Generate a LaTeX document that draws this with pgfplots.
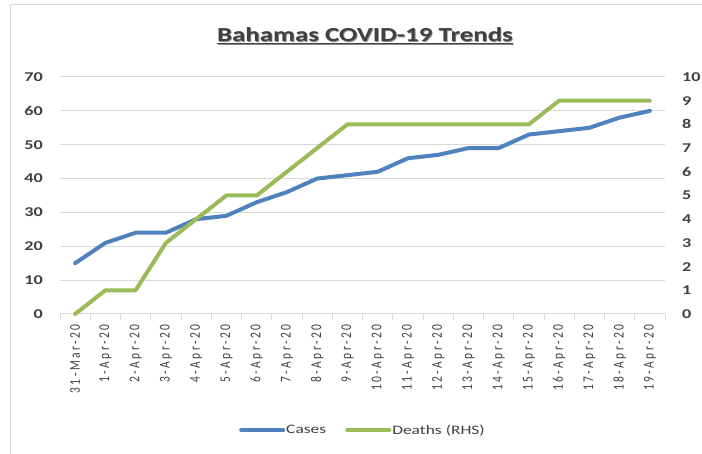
\documentclass[border=0pt]{standalone}
\usepackage{pgfplots}
\pgfplotsset{compat=1.18}
\usepackage{fontspec}
\setmainfont{Carlito}[FakeStretch=1.35]
\newfontfamily\datefont{Carlito}[LetterSpace=22]
\definecolor{cblue}{HTML}{4F81BD}
\definecolor{cgreen}{HTML}{9BBB59}
\definecolor{txt}{HTML}{404040}
\definecolor{gridc}{HTML}{D9D9D9}
\begin{document}
\begin{tikzpicture}[x=1bp,y=1bp]
\useasboundingbox (0,0) rectangle (702,454);
\draw[gridc, line width=1bp] (10,-10) rectangle (720,449);
\node[font=\fontsize{20}{24}\selectfont\bfseries, text=black!45] at (365.8,417.2) {\underline{Bahamas COVID-19 Trends}};
\node[font=\fontsize{20}{24}\selectfont\bfseries, text=txt] at (365,418) {\underline{Bahamas COVID-19 Trends}};
\begin{axis}[at={(60bp,140bp)}, anchor=south west, scale only axis, width=605bp, height=237bp,
  /pgf/number format/assume math mode=true,
  xmin=-0.5, xmax=19.5, ymin=0, ymax=70, ytick={0,10,...,70},
  xtick={0,...,19},
  xticklabels={31-Mar-20,1-Apr-20,2-Apr-20,3-Apr-20,4-Apr-20,5-Apr-20,6-Apr-20,7-Apr-20,8-Apr-20,9-Apr-20,10-Apr-20,11-Apr-20,12-Apr-20,13-Apr-20,14-Apr-20,15-Apr-20,16-Apr-20,17-Apr-20,18-Apr-20,19-Apr-20},
  minor xtick={-0.5,0.5,...,19.5},
  axis x line*=bottom, axis y line*=left,
  y axis line style={draw=none},
  x axis line style={draw=gridc, line width=1bp},
  tick align=outside, major tick length=0pt, minor tick length=6bp,
  minor tick style={draw=gridc, line width=1bp},
  ymajorgrids, grid style={draw=gridc, line width=1bp},
  xticklabel style={yshift=-10bp, rotate=90, yscale=1.3, anchor=east, inner sep=0pt, font=\datefont\fontsize{11.5}{12}\selectfont, text=txt},
  yticklabel style={anchor=east, inner sep=0pt, xshift=-17bp, font=\fontsize{13.5}{14}\selectfont\bfseries, text=txt},
  legend style={at={(rel axis cs:0.5,-0.49)}, anchor=center, draw=none, fill=none, legend columns=2,
    font=\fontsize{13}{14}\selectfont, text=txt,
    nodes={inner xsep=1bp},
    /tikz/every even column/.append style={column sep=18bp}},
  legend image code/.code={\draw[#1] (0bp,0bp) -- (42bp,0bp);},
  clip=false,
]
\addplot[cblue, line width=4bp, line join=round, line cap=round] coordinates {
(0,15) (1,21) (2,24) (3,24) (4,28) (5,29) (6,33) (7,36) (8,40) (9,41)
(10,42) (11,46) (12,47) (13,49) (14,49) (15,53) (16,54) (17,55) (18,58) (19,60)};
\addlegendentry{Cases}
\addlegendimage{cgreen, line width=4bp, line cap=round}
\addlegendentry{Deaths (RHS)}
\end{axis}
\begin{axis}[at={(60bp,140bp)}, anchor=south west, scale only axis, width=605bp, height=237bp,
  /pgf/number format/assume math mode=true,
  xmin=-0.5, xmax=19.5, ymin=0, ymax=10, ytick={0,1,...,10},
  axis x line=none, axis y line*=right,
  y axis line style={draw=none},
  major tick length=0pt,
  yticklabel style={anchor=west, inner sep=0pt, xshift=17bp, font=\fontsize{13.5}{14}\selectfont\bfseries, text=txt},
  clip=false,
]
\addplot[cgreen, line width=4bp, line join=round, line cap=round] coordinates {
(0,0) (1,1) (2,1) (3,3) (4,4) (5,5) (6,5) (7,6) (8,7) (9,8)
(10,8) (11,8) (12,8) (13,8) (14,8) (15,8) (16,9) (17,9) (18,9) (19,9)};
\end{axis}
\end{tikzpicture}
\end{document}
